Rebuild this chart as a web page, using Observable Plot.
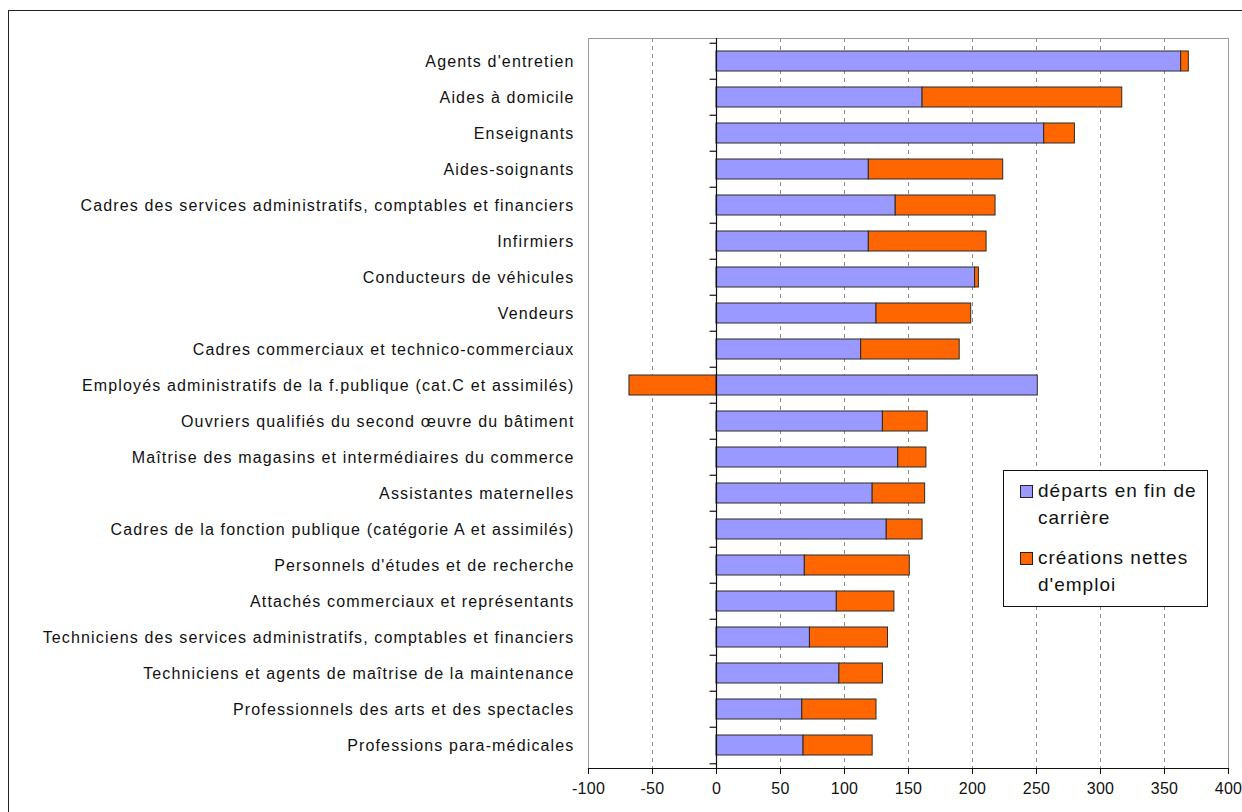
<!DOCTYPE html>
<html>
<head>
<meta charset="utf-8">
<script src="https://cdn.jsdelivr.net/npm/d3@7"></script>
<script src="https://cdn.jsdelivr.net/npm/@observablehq/plot@0.6"></script>
<style>
  html, body { margin: 0; padding: 0; background: #fff; }
  body { width: 1242px; height: 812px; overflow: hidden; position: relative; font-family: "Liberation Sans", Arial, sans-serif; }
  #outer { position: absolute; left: 8px; top: 10px; width: 1250px; height: 820px; border: 1px solid #222; box-sizing: border-box; pointer-events: none; }
  #chart { position: absolute; left: 0; top: 0; }
  #legend { position: absolute; left: 1003px; top: 470px; width: 205px; height: 137px; border: 1px solid #111; background: #fff; box-sizing: border-box; font-size: 19px; letter-spacing: 1px; color: #111; }
  .item { position: absolute; left: 16px; line-height: 27px; }
  .sw { position: absolute; left: 0; top: 8px; width: 11px; height: 11px; border: 1px solid #222; }
  .txt { position: absolute; left: 18px; top: 0; white-space: nowrap; }
</style>
</head>
<body>
<div id="chart"></div>
<div id="outer"></div>
<div id="legend"></div>
<script>
const categories = [
  "Agents d'entretien",
  "Aides à domicile",
  "Enseignants",
  "Aides-soignants",
  "Cadres des services administratifs, comptables et financiers",
  "Infirmiers",
  "Conducteurs de véhicules",
  "Vendeurs",
  "Cadres commerciaux et technico-commerciaux",
  "Employés administratifs de la f.publique (cat.C et assimilés)",
  "Ouvriers qualifiés du second œuvre du bâtiment",
  "Maîtrise des magasins et intermédiaires du commerce",
  "Assistantes maternelles",
  "Cadres de la fonction publique (catégorie A et assimilés)",
  "Personnels d'études et de recherche",
  "Attachés commerciaux et représentants",
  "Techniciens des services administratifs, comptables et financiers",
  "Techniciens et agents de maîtrise de la maintenance",
  "Professionnels des arts et des spectacles",
  "Professions para-médicales"
];
const departs = [363, 161, 256, 119, 140, 119, 202, 125, 113, 251, 130, 142, 122, 133, 69, 94, 73, 96, 67, 68];
const creations = [6, 156, 24, 105, 78, 92, 3, 74, 77, -68, 35, 22, 41, 28, 82, 45, 61, 34, 58, 54];
const seriesNames = ["départs en fin de carrière", "créations nettes d'emploi"];
const seriesColors = ["#9999ff", "#ff6600"];
const xTicks = [-100, -50, 0, 50, 100, 150, 200, 250, 300, 350, 400];
const gridTicks = [-50, 50, 100, 150, 200, 250, 300, 350];

const rows = [];
categories.forEach((c, i) => {
  rows.push({cat: c, series: seriesNames[0], value: departs[i], order: 0});
  rows.push({cat: c, series: seriesNames[1], value: creations[i], order: 1});
});

const marginTop = 38, marginBottom = 44, H = 812;
const step = (H - marginTop - marginBottom) / categories.length;

const chart = Plot.plot({
  width: 1242,
  height: H,
  marginLeft: 588,
  marginRight: 14,
  marginTop,
  marginBottom,
  style: {fontFamily: "Liberation Sans, Arial, sans-serif", fontSize: "16px", color: "#111", background: "#fff"},
  x: {domain: [-100, 400], label: null},
  y: {domain: categories, paddingInner: 0.45, paddingOuter: 0.225, label: null},
  color: {domain: seriesNames, range: seriesColors},
  marks: [
    Plot.gridX(gridTicks, {stroke: "#888", strokeOpacity: 1, strokeDasharray: "4,4"}),
    Plot.frame({stroke: "#9a9a9a"}),
    Plot.barX(rows, Plot.stackX({x: "value", y: "cat", fill: "series", order: "order", stroke: "#2a2a2a", strokeWidth: 1})),
    Plot.ruleX([0], {stroke: "#111", strokeWidth: 1.2}),
    Plot.ruleY(categories, {y: d => d, x1: -5, x2: 0, dy: -step / 2, stroke: "#111", strokeWidth: 1.2}),
    Plot.ruleY(categories.slice(-1), {y: d => d, x1: -5, x2: 0, dy: step / 2, stroke: "#111", strokeWidth: 1.2}),
    Plot.frame({anchor: "bottom", stroke: "#111", strokeWidth: 1.2}),
    Plot.axisX(xTicks, {anchor: "bottom", tickSize: 6, tickPadding: 8, tickFormat: d => String(d), stroke: "#111", fontSize: 16, label: null}),
    Plot.axisY({anchor: "left", tickSize: 0, tickPadding: 14, fontSize: 16, label: null})
  ]
});
chart.querySelectorAll("text").forEach(t => {
  const g = t.closest("[aria-label]");
  const lab = g ? g.getAttribute("aria-label") : "";
  t.style.letterSpacing = lab.startsWith("x-axis") ? "0.3px" : "1.15px";
});
document.getElementById("chart").appendChild(chart);

const legend = document.getElementById("legend");
const legendLines = [["départs en fin de", "carrière"], ["créations nettes", "d'emploi"]];
legendLines.forEach((lines, i) => {
  const item = document.createElement("div");
  item.className = "item";
  item.style.top = (6 + i * 67) + "px";
  const sw = document.createElement("div");
  sw.className = "sw";
  sw.style.background = seriesColors[i];
  const txt = document.createElement("div");
  txt.className = "txt";
  txt.innerHTML = lines.join("<br>");
  item.appendChild(sw);
  item.appendChild(txt);
  legend.appendChild(item);
});
</script>
</body>
</html>
